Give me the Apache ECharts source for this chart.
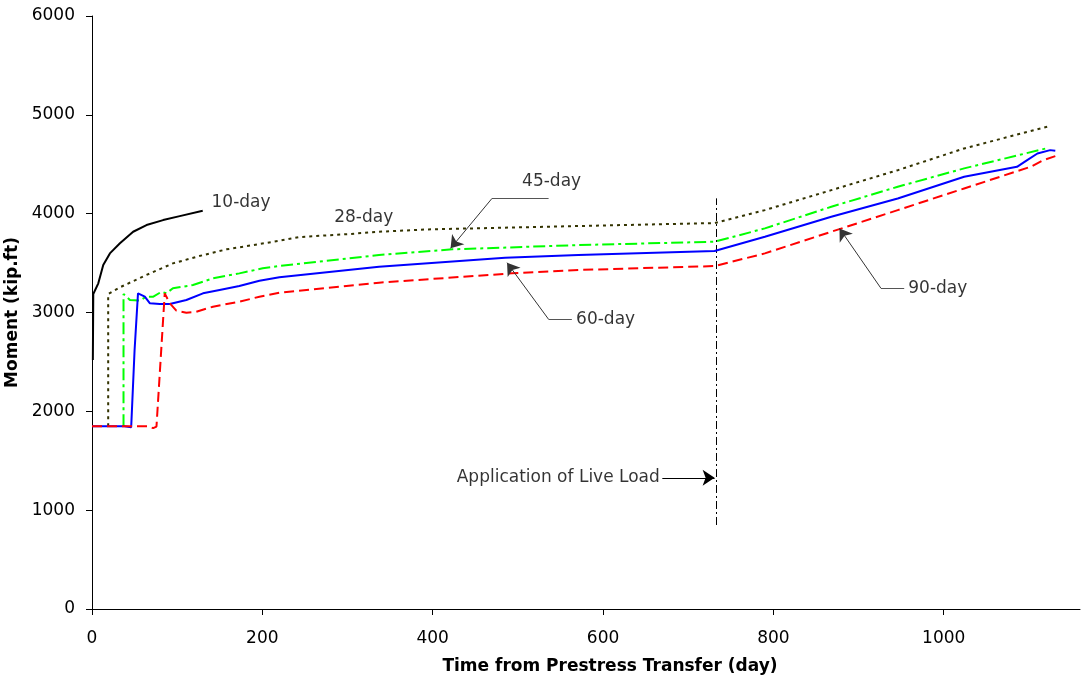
<!DOCTYPE html>
<html><head><meta charset="utf-8">
<script src="https://cdn.jsdelivr.net/npm/echarts@6/dist/echarts.min.js"></script>
<style>html,body{margin:0;padding:0;background:#fff}#c{width:1083px;height:679px}</style>
</head><body><div id="c"></div>
<script>
// [day, moment (kip.ft)]
const day10 = [[1,2520],[1.5,3187],[3.5,3190],[7.4,3295],[13.2,3480],[21,3598],[32.8,3700],[48.3,3817],[64,3885],[83.5,3935],[103,3975],[130,4030]];
const day28 = [[19,1850],[19,3187],[32.8,3255],[64,3380],[95,3497],[126,3571],[158,3639],[189,3682],[220,3726],[243,3763],[302,3794],[337,3817],[395,3841],[571,3875],[731,3905],[790,4036],[868,4238],[946,4440],[1024,4660],[1125,4888]];
const day45 = [[37,1850],[37,3187],[40.6,3160],[44.5,3127],[56,3120],[64,3160],[72,3160],[81.6,3210],[87.3,3194],[95,3245],[118.6,3278],[142,3346],[173,3396],[200.5,3447],[220,3470],[337,3582],[423,3639],[571,3682],[731,3716],[790,3851],[868,4070],[946,4272],[1024,4458],[1123,4666]];
const day60 = [[0,1850],[38,1850],[40,1840],[46,1840],[50,2621],[54,3194],[56,3200],[62,3160],[68,3093],[79.6,3086],[91.3,3086],[110.8,3127],[130.3,3194],[149.8,3228],[173,3268],[196.6,3322],[220,3356],[337,3463],[485,3554],[571,3582],[731,3622],[790,3766],[868,3968],[946,4154],[1024,4373],[1086,4474],[1098,4542],[1110,4609],[1125,4643],[1131,4636]];
const day90 = [[0,1850],[66,1850],[71.8,1830],[75.7,1846],[85.4,3194],[87.3,3200],[91.3,3093],[99,3019],[110.8,2998],[122.5,3008],[142,3059],[173,3109],[196.6,3160],[220,3200],[337,3302],[493,3396],[571,3430],[731,3470],[790,3598],[868,3817],[946,4036],[1024,4255],[1102,4474],[1117,4542],[1131,4582]];

const xTicks = [0,200,400,600,800,1000];
const yTicks = [0,1000,2000,3000,4000,5000,6000];

// annotations (data coordinates)
const annoLabels = [
  {text:'10-day', x:138, y:4108, pos:'right'},
  {text:'28-day', x:282, y:3956, pos:'right'},
  {text:'45-day', x:539.6, y:4320, pos:'inside'},
  {text:'60-day', x:566, y:2931, pos:'right'},
  {text:'90-day', x:956, y:3245, pos:'right'},
  {text:'Application of Live Load', x:669, y:1327, pos:'left'}
];
const leaderLines = [
  [[469.7,4155],[536.1,4155]],
  [[536.1,2931],[563.4,2931]],
  [[926.3,3245],[953.6,3245]]
];
const arrowLines = [
  [[469.7,4155],[421,3649]],
  [[536.1,2931],[487.3,3504]],
  [[926.3,3245],[877.6,3851]]
];
const liveArrow = [[[669.6,1327],[731,1327]]];
const liveLoadLine = [[[733,850],[733,4155]]];

const FONT = 'DejaVu Sans, sans-serif';
const chart = echarts.init(document.getElementById('c'));
function lineSeries(name, data, color, type, width){
  return {name, type:'line', data, symbol:'none', animation:false,
    lineStyle:{color, width, type}, z:3};
}
chart.setOption({
  animation:false,
  grid:{left:92, right:3, top:16, bottom:70, containLabel:false, outerBoundsMode:'none'},
  xAxis:{type:'value', min:0, max:1160, interval:200,
    name:'Time from Prestress Transfer (day)', nameLocation:'middle', nameGap:49,
    nameTextStyle:{fontFamily:FONT, fontWeight:'bold', fontSize:17, color:'#000', padding:[0,0,0,48]},
    axisLine:{show:true, lineStyle:{color:'#000', width:1}},
    axisTick:{show:true, inside:false, length:6, lineStyle:{color:'#000'}},
    axisLabel:{fontFamily:FONT, fontSize:17, color:'#000', margin:21, showMaxLabel:false,
      formatter:v => xTicks.includes(v) ? String(v) : ''},
    splitLine:{show:false}},
  yAxis:{type:'value', min:0, max:6000, interval:1000,
    name:'Moment (kip.ft)', nameLocation:'middle', nameGap:57, nameRotate:90,
    nameTextStyle:{fontFamily:FONT, fontWeight:'bold', fontSize:17, color:'#000'},
    axisLine:{show:true, lineStyle:{color:'#000', width:1}},
    axisTick:{show:true, inside:false, length:6, lineStyle:{color:'#000'}},
    axisLabel:{fontFamily:FONT, fontSize:17, color:'#000', margin:17,
      formatter:v => yTicks.includes(v) ? String(v) : ''},
    splitLine:{show:false}},
  series:[
    lineSeries('10-day', day10, '#000000', 'solid', 2),
    lineSeries('28-day', day28, '#333300', [3,4], 2),
    lineSeries('45-day', day45, '#00ff00', [12,4,3,4], 2),
    lineSeries('60-day', day60, '#0000ff', 'solid', 2),
    lineSeries('90-day', day90, '#ff0000', [10,5], 2),
    {type:'lines', coordinateSystem:'cartesian2d', polyline:false, silent:true,
      data: liveLoadLine.map(c => ({coords:c})),
      lineStyle:{color:'#000', width:1, type:[8,3,2,3], opacity:1}, symbol:['none','none'], z:2},
    {type:'lines', coordinateSystem:'cartesian2d', silent:true,
      data: leaderLines.map(c => ({coords:c})),
      lineStyle:{color:'#555', width:1, opacity:1}, symbol:['none','none'], z:4},
    {type:'lines', coordinateSystem:'cartesian2d', silent:true,
      data: arrowLines.map(c => ({coords:c})),
      lineStyle:{color:'#333', width:1, opacity:1}, symbol:['none','arrow'], symbolSize:[8,12], z:4},
    {type:'lines', coordinateSystem:'cartesian2d', silent:true,
      data: liveArrow.map(c => ({coords:c})),
      lineStyle:{color:'#000', width:1, opacity:1}, symbol:['none','arrow'], symbolSize:[8,12], z:4},
    {type:'scatter', silent:true, symbolSize:0, itemStyle:{color:'rgba(0,0,0,0)'}, z:5,
      data: annoLabels.map(a => ({value:[a.x,a.y], label:{show:true, formatter:a.text, position:a.pos,
        distance:2, fontFamily:FONT, fontSize:17, color:'#000'}}))}
  ]
});
</script></body></html>
